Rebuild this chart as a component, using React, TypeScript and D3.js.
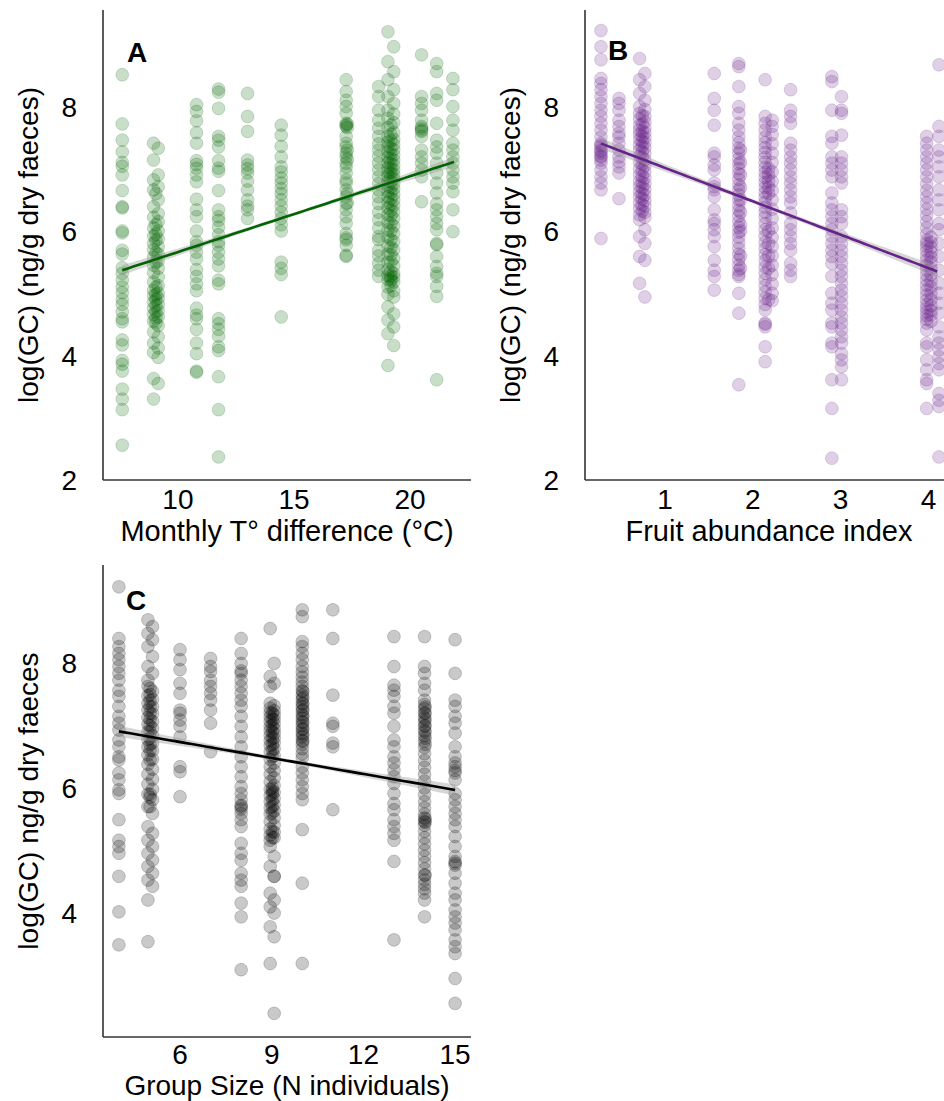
import React from "react";
import * as d3 from "d3";

// ---------- Panel A: monthly temperature difference ----------
const tempDiff = [7.6, 8.95, 9.15, 9.05, 10.8, 11.75, 13.0, 14.45, 17.25, 17.3, 18.65, 19.05, 19.3, 19.18, 20.5, 21.15, 21.85];
const gcByTemp: number[][] = [
  [8.51, 7.72, 7.46, 7.27, 7.1, 7.04, 6.9, 6.65, 6.39, 6.37, 6.0, 5.97, 5.69, 5.63, 5.41, 5.32, 5.21, 5.1, 5.01, 4.9, 4.82, 4.7, 4.59, 4.54, 4.25, 4.17, 3.92, 3.86, 3.75, 3.46, 3.3, 3.13, 2.56],
  [7.41, 7.14, 6.82, 6.66, 6.39, 6.22, 6.05, 5.92, 5.8, 5.7, 5.58, 5.45, 5.33, 5.18, 5.05, 4.96, 4.86, 4.76, 4.66, 4.55, 4.38, 4.2, 4.05, 3.63, 3.3],
  [7.33, 6.9, 6.71, 6.5, 6.28, 6.15, 6.0, 5.87, 5.75, 5.63, 5.52, 5.4, 5.26, 5.12, 5.0, 4.92, 4.82, 4.72, 4.62, 4.48, 4.3, 4.12, 3.97, 3.55],
  [6.6, 6.1, 5.95, 5.85, 5.65, 5.5, 5.1, 4.98, 4.9, 4.8, 4.7, 4.6, 4.52],
  [8.03, 7.92, 7.77, 7.58, 7.41, 7.13, 7.07, 7.01, 6.9, 6.79, 6.51, 6.34, 6.23, 6.0, 5.83, 5.77, 5.66, 5.55, 5.38, 5.27, 5.15, 5.04, 4.76, 4.65, 4.59, 4.42, 4.2, 4.03, 3.75, 3.73],
  [8.28, 8.23, 7.97, 7.52, 7.46, 7.35, 7.13, 7.01, 6.96, 6.65, 6.34, 6.23, 6.17, 6.06, 5.94, 5.83, 5.77, 5.66, 5.55, 5.44, 5.21, 5.15, 4.59, 4.51, 4.42, 4.31, 4.14, 4.08, 3.66, 3.13, 2.37],
  [8.21, 7.84, 7.6, 7.14, 7.06, 7.0, 6.93, 6.8, 6.66, 6.5, 6.4, 6.34, 6.2],
  [7.7, 7.54, 7.36, 7.19, 7.03, 6.95, 6.85, 6.77, 6.68, 6.6, 6.5, 6.4, 6.3, 6.2, 6.1, 6.0, 5.5, 5.4, 5.3, 4.62],
  [8.43, 8.24, 8.1, 8.0, 7.89, 7.73, 7.7, 7.68, 7.52, 7.41, 7.35, 7.25, 7.19, 7.09, 7.03, 6.93, 6.82, 6.77, 6.66, 6.55, 6.44, 6.34, 6.23, 6.12, 5.96, 5.89, 5.86, 5.77, 5.61, 5.59],
  [7.72, 7.66, 7.3, 7.15, 6.6, 6.45],
  [8.32, 8.16, 7.94, 7.78, 7.65, 7.52, 7.4, 7.3, 7.2, 7.09, 6.98, 6.87, 6.76, 6.66, 6.55, 6.44, 6.3, 6.18, 6.05, 5.91, 5.86, 5.69, 5.6, 5.48, 5.37, 5.27],
  [9.2, 8.72, 8.43, 8.16, 7.94, 7.81, 7.66, 7.52, 7.43, 7.36, 7.27, 7.18, 7.1, 7.02, 6.95, 6.88, 6.8, 6.72, 6.63, 6.55, 6.46, 6.37, 6.26, 6.14, 6.02, 5.9, 5.76, 5.63, 5.5, 5.38, 5.29, 5.22, 5.1, 4.98, 4.78, 4.57, 4.35, 3.84],
  [8.96, 8.56, 8.27, 8.05, 7.88, 7.74, 7.58, 7.47, 7.39, 7.31, 7.22, 7.14, 7.06, 6.98, 6.91, 6.84, 6.76, 6.68, 6.59, 6.5, 6.41, 6.31, 6.2, 6.08, 5.96, 5.83, 5.7, 5.56, 5.44, 5.32, 5.26, 5.18, 5.04, 4.94, 4.67, 4.46, 4.16],
  [7.7, 7.55, 7.45, 7.33, 7.24, 7.16, 7.08, 7.0, 6.93, 6.86, 6.79, 6.7, 6.62, 6.52, 6.42, 6.33, 6.24, 6.12, 6.0, 5.86, 5.74, 5.62, 5.5, 5.35, 5.28, 5.24, 5.2, 5.12],
  [8.83, 8.16, 8.05, 7.94, 7.78, 7.68, 7.65, 7.62, 7.6, 7.52, 7.3, 7.19, 7.09, 6.98, 6.87, 6.47],
  [8.69, 8.56, 8.21, 8.1, 7.73, 7.46, 7.35, 7.25, 7.09, 6.93, 6.77, 6.61, 6.44, 6.34, 6.23, 6.12, 6.02, 5.8, 5.78, 5.59, 5.43, 5.32, 5.27, 5.11, 4.95, 3.61],
  [8.45, 8.27, 8.0, 7.78, 7.62, 7.41, 7.3, 7.19, 7.09, 6.98, 6.87, 6.77, 6.63, 6.34, 5.99],
];
const tempTicks = [10, 15, 20];
const fitTemp = [4.445, 0.1217, 7.6, 21.9]; // intercept, slope, from, to
const ciTemp = [0.025, 0.08]; // half-width at centre, at ends

// ---------- Panel B: fruit abundance ----------
const fruitIndex = [0.27, 0.475, 0.71, 0.77, 0.74, 1.56, 1.84, 1.86, 2.14, 2.22, 2.18, 2.43, 2.9, 3.01, 3.98, 4.03, 4.12];
const gcByFruit: number[][] = [
  [9.22, 8.96, 8.75, 8.45, 8.37, 8.27, 8.16, 8.05, 7.94, 7.84, 7.73, 7.62, 7.51, 7.41, 7.38, 7.35, 7.3, 7.28, 7.25, 7.2, 7.19, 7.14, 7.09, 6.98, 6.87, 6.77, 6.66, 5.88],
  [8.13, 8.05, 7.94, 7.78, 7.68, 7.57, 7.51, 7.41, 7.3, 7.19, 7.11, 7.03, 6.93, 6.52],
  [8.77, 8.43, 8.21, 8.0, 7.89, 7.8, 7.7, 7.62, 7.55, 7.47, 7.38, 7.3, 7.2, 7.1, 7.0, 6.9, 6.8, 6.72, 6.63, 6.55, 6.45, 6.36, 6.26, 6.18, 5.91, 5.59, 5.16],
  [8.53, 8.32, 8.1, 7.95, 7.84, 7.75, 7.66, 7.58, 7.5, 7.42, 7.34, 7.25, 7.15, 7.05, 6.95, 6.85, 6.76, 6.67, 6.58, 6.49, 6.4, 6.3, 6.22, 6.02, 5.8, 5.53, 4.94],
  [7.85, 7.72, 7.6, 7.52, 7.44, 7.36, 7.27, 7.18, 7.08, 6.98, 6.88, 6.78, 6.7, 6.6, 6.52, 6.42, 6.32],
  [8.53, 8.13, 7.94, 7.7, 7.25, 7.19, 7.06, 6.98, 6.77, 6.71, 6.66, 6.55, 6.34, 6.18, 6.12, 6.02, 5.91, 5.75, 5.53, 5.37, 5.27, 5.05],
  [8.69, 8.64, 8.32, 8.0, 7.89, 7.73, 7.62, 7.51, 7.42, 7.33, 7.25, 7.16, 7.08, 7.0, 6.92, 6.83, 6.74, 6.66, 6.58, 6.5, 6.41, 6.33, 6.24, 6.15, 6.06, 5.98, 5.9, 5.81, 5.72, 5.63, 5.54, 5.45, 5.37, 5.3, 5.27, 5.0, 4.68, 3.53],
  [7.3, 7.1, 6.9, 6.7, 6.5, 6.3, 6.1, 6.0, 5.6, 5.4],
  [8.43, 7.84, 7.73, 7.62, 7.51, 7.42, 7.34, 7.26, 7.18, 7.1, 7.02, 6.94, 6.86, 6.78, 6.7, 6.62, 6.54, 6.46, 6.38, 6.3, 6.22, 6.12, 6.02, 5.92, 5.82, 5.72, 5.62, 5.52, 5.42, 5.32, 5.22, 5.12, 5.02, 4.92, 4.82, 4.73, 4.52, 4.5, 4.46, 4.14, 3.9],
  [7.78, 7.68, 7.55, 7.4, 7.25, 7.1, 6.95, 6.8, 6.65, 6.5, 6.35, 6.2, 6.05, 5.9, 5.75, 5.6, 5.45, 5.3, 5.15, 5.0, 4.88],
  [7.0, 6.9, 6.8, 6.7, 6.6, 6.0, 5.8, 5.6, 5.4, 4.9],
  [8.27, 7.94, 7.84, 7.73, 7.41, 7.3, 7.19, 7.09, 6.98, 6.87, 6.77, 6.66, 6.55, 6.45, 6.29, 6.12, 6.02, 5.91, 5.8, 5.69, 5.48, 5.37, 5.27],
  [8.48, 8.4, 7.94, 7.52, 7.41, 7.19, 7.09, 6.98, 6.87, 6.61, 6.45, 6.34, 6.23, 6.12, 6.02, 5.91, 5.8, 5.69, 5.59, 5.48, 5.27, 5.0, 4.84, 4.73, 4.52, 4.46, 4.2, 4.14, 3.61, 3.15, 2.35],
  [8.16, 7.94, 7.89, 7.54, 7.19, 7.09, 6.98, 6.87, 6.77, 6.34, 6.23, 6.12, 5.91, 5.8, 5.69, 5.59, 5.48, 5.37, 5.27, 5.16, 5.05, 4.95, 4.84, 4.73, 4.62, 4.52, 4.41, 4.3, 4.2, 4.03, 3.93, 3.82, 3.61],
  [7.52, 7.41, 7.3, 7.19, 7.09, 6.98, 6.87, 6.76, 6.65, 6.55, 6.45, 6.35, 6.25, 6.15, 6.05, 5.95, 5.85, 5.8, 5.75, 5.68, 5.6, 5.53, 5.45, 5.37, 5.29, 5.21, 5.13, 5.05, 4.97, 4.89, 4.82, 4.76, 4.7, 4.64, 4.58, 4.52, 4.41, 4.2, 4.14, 3.93, 3.77, 3.61, 3.55, 3.15],
  [5.9, 5.82, 5.74, 5.66, 5.58, 5.5, 5.4, 5.3, 5.2, 5.1, 5.0, 4.9, 4.8, 4.72, 4.65, 4.55],
  [8.67, 7.68, 7.52, 7.3, 7.19, 7.03, 6.87, 6.66, 6.5, 6.34, 6.12, 6.02, 5.8, 5.59, 5.37, 5.16, 5.0, 4.84, 4.68, 4.46, 4.3, 4.2, 4.09, 3.98, 3.87, 3.77, 3.39, 3.28, 3.18, 2.37],
];
const fruitTicks = [1, 2, 3, 4];
const fitFruit = [7.55, -0.5365, 0.27, 4.1];
const ciFruit = [0.03, 0.09];

// ---------- Panel C: group size ----------
const groupSize = [4, 4.95, 5.1, 5.02, 6, 7, 8, 8.95, 9.08, 9.02, 10, 10.02, 11, 13, 14, 14.02, 15];
const gcByGroup: number[][] = [
  [9.23, 8.4, 8.27, 8.16, 8.06, 7.95, 7.84, 7.73, 7.57, 7.47, 7.31, 7.15, 7.04, 6.93, 6.77, 6.66, 6.5, 6.45, 6.24, 6.13, 5.97, 5.91, 5.49, 5.16, 5.06, 4.95, 4.58, 4.01, 3.48],
  [8.7, 8.48, 8.27, 7.95, 7.73, 7.63, 7.48, 7.36, 7.25, 7.13, 7.02, 6.9, 6.78, 6.66, 6.53, 6.38, 6.22, 6.06, 5.9, 5.7, 5.38, 5.16, 4.95, 4.74, 4.52, 4.2, 3.53],
  [8.59, 8.38, 8.11, 7.84, 7.55, 7.42, 7.3, 7.19, 7.07, 6.96, 6.84, 6.72, 6.6, 6.46, 6.3, 6.14, 5.98, 5.81, 5.59, 5.27, 5.06, 4.84, 4.63, 4.42],
  [7.6, 7.5, 7.4, 7.3, 7.2, 7.1, 7.0, 6.9, 6.8, 6.7, 6.6, 6.45, 5.9, 5.85, 5.7],
  [8.22, 8.06, 7.9, 7.68, 7.52, 7.25, 7.2, 7.09, 6.99, 6.82, 6.34, 6.26, 5.86],
  [8.08, 7.95, 7.87, 7.73, 7.63, 7.52, 7.41, 7.25, 7.04, 6.58],
  [8.4, 8.16, 8.0, 7.88, 7.84, 7.73, 7.63, 7.52, 7.41, 7.31, 7.15, 6.99, 6.82, 6.66, 6.5, 6.34, 6.18, 6.02, 5.91, 5.81, 5.72, 5.7, 5.66, 5.59, 5.49, 5.38, 5.11, 4.95, 4.84, 4.63, 4.52, 4.42, 4.15, 3.93, 3.08],
  [8.56, 7.79, 7.63, 7.36, 7.28, 7.21, 7.14, 7.07, 6.99, 6.92, 6.84, 6.76, 6.68, 6.58, 6.46, 6.34, 6.22, 6.1, 5.98, 5.88, 5.78, 5.68, 5.58, 5.46, 5.34, 5.24, 5.16, 5.06, 4.74, 4.31, 4.09, 3.77, 3.18],
  [8.0, 7.68, 7.32, 7.24, 7.17, 7.1, 7.03, 6.95, 6.88, 6.8, 6.72, 6.63, 6.52, 6.4, 6.28, 6.16, 6.04, 5.93, 5.83, 5.73, 5.63, 5.52, 5.4, 5.29, 5.2, 4.9, 4.58, 4.58, 4.2, 3.99, 3.61, 2.38],
  [7.2, 7.1, 7.0, 6.9, 6.8, 6.7, 6.6, 6.5, 6.0, 5.95, 5.9, 5.8, 5.7, 5.6, 5.3, 5.2],
  [8.86, 8.75, 8.35, 8.27, 8.16, 8.06, 7.95, 7.86, 7.78, 7.7, 7.63, 7.56, 7.49, 7.42, 7.36, 7.3, 7.24, 7.18, 7.12, 7.06, 7.0, 6.94, 6.88, 6.82, 6.76, 6.7, 6.63, 6.55, 6.48, 6.34, 6.24, 6.13, 6.02, 5.91, 5.81, 5.33, 4.47, 3.18],
  [7.55, 7.45, 7.35, 7.25, 7.15, 7.05, 6.95, 6.85, 6.75],
  [8.86, 8.4, 7.49, 7.04, 6.99, 6.72, 6.66, 5.65],
  [8.43, 7.95, 7.65, 7.57, 7.47, 7.31, 7.2, 6.99, 6.77, 6.66, 6.5, 6.4, 6.29, 6.18, 6.07, 5.91, 5.75, 5.65, 5.49, 5.38, 5.27, 5.16, 4.82, 3.56],
  [8.43, 7.95, 7.84, 7.68, 7.57, 7.41, 7.34, 7.27, 7.2, 7.13, 7.06, 6.99, 6.92, 6.84, 6.75, 6.65, 6.55, 6.44, 6.33, 6.22, 6.11, 6.0, 5.89, 5.78, 5.68, 5.58, 5.52, 5.46, 5.4, 5.3, 5.2, 5.1, 5.0, 4.9, 4.8, 4.7, 4.6, 4.52, 4.45, 4.38, 4.31, 4.2, 3.93],
  [7.3, 7.2, 7.1, 7.0, 6.9, 6.8, 6.7, 5.5, 5.45, 4.6],
  [8.38, 7.84, 7.41, 7.31, 7.15, 7.04, 6.88, 6.66, 6.5, 6.4, 6.34, 6.28, 6.24, 6.13, 5.91, 5.81, 5.7, 5.59, 5.49, 5.38, 5.22, 5.06, 4.9, 4.82, 4.79, 4.76, 4.63, 4.47, 4.31, 4.2, 4.04, 3.93, 3.83, 3.72, 3.56, 3.45, 3.34, 2.94, 2.54],
];
const groupTicks = [6, 9, 12, 15];
const fitGroup = [7.25, -0.0855, 4, 15];
const ciGroup = [0.03, 0.09];

const gcTicksAB = [2, 4, 6, 8];
const gcTicksC = [4, 6, 8];

const FONT = "'Liberation Sans', Arial, Helvetica, sans-serif";

type Spec = {
  letter: string;
  left: number; right: number; top: number; bottom: number;
  xDomain: [number, number]; yDomain: [number, number];
  xs: number[]; ys: number[][];
  xTicks: number[]; yTicks: number[];
  xTitle: string; yTitle: string;
  color: string;
  fit: number[]; ci: number[];
  letterPos: [number, number];
  tickGap: number;
  titleGap: number;
  titleSize: number;
};

function Panel({ s }: { s: Spec }) {
  const x = d3.scaleLinear().domain(s.xDomain).range([s.left, s.right]);
  const y = d3.scaleLinear().domain(s.yDomain).range([s.bottom, s.top]);
  const pts = s.xs.flatMap((xv, i) => s.ys[i].map((v) => [xv, v] as [number, number]));
  const [b0, b1, f0, f1] = s.fit;
  const mid = (f0 + f1) / 2;
  const half = (f1 - f0) / 2;
  const [h0, h1] = s.ci;
  const hw = (u: number) => Math.sqrt(h0 * h0 + (h1 * h1 - h0 * h0) * ((u - mid) / half) ** 2);
  const us = d3.range(0, 61).map((i) => f0 + ((f1 - f0) * i) / 60);
  const band = d3
    .area<number>()
    .x((u) => x(u))
    .y0((u) => y(b0 + b1 * u - hw(u)))
    .y1((u) => y(b0 + b1 * u + hw(u)))(us);
  const line = d3
    .line<number>()
    .x((u) => x(u))
    .y((u) => y(b0 + b1 * u))(us);
  const ymid = (s.top + s.bottom) / 2;
  const xmid = (s.left + s.right) / 2;
  return (
    <g>
      <g>
        {pts.map(([a, b], i) => (
          <circle
            key={i}
            cx={x(a)}
            cy={y(b)}
            r={6.4}
            fill={s.color}
            fillOpacity={0.21}
            stroke={s.color}
            strokeOpacity={0.18}
            strokeWidth={1}
          />
        ))}
      </g>
      <path d={band || ""} fill="#999999" fillOpacity={0.4} />
      <path d={line || ""} fill="none" stroke={s.color} strokeWidth={2.6} />
      <line x1={s.left} x2={s.left} y1={s.top} y2={s.bottom} stroke="#333" strokeWidth={1.6} />
      <line x1={s.left} x2={s.right} y1={s.bottom} y2={s.bottom} stroke="#333" strokeWidth={1.6} />
      {s.yTicks.map((t) => (
        <text key={"y" + t} x={s.left - 26} y={y(t)} dy="0.36em" textAnchor="end" fontSize={28} fontFamily={FONT} fill="#000">
          {t}
        </text>
      ))}
      {s.xTicks.map((t) => (
        <text key={"x" + t} x={x(t)} y={s.bottom + s.tickGap} dy="0.36em" textAnchor="middle" fontSize={28} fontFamily={FONT} fill="#000">
          {t}
        </text>
      ))}
      <text x={xmid} y={s.bottom + s.titleGap} dy="0.36em" textAnchor="middle" fontSize={s.titleSize} fontFamily={FONT} fill="#000">
        {s.xTitle}
      </text>
      <text
        transform={`translate(${s.left - 75},${ymid}) rotate(-90)`}
        dy="0.36em"
        textAnchor="middle"
        fontSize={28}
        fontFamily={FONT}
        fill="#000"
      >
        {s.yTitle}
      </text>
      <text x={s.letterPos[0]} y={s.letterPos[1]} dy="0.36em" textAnchor="middle" fontSize={28} fontWeight="bold" fontFamily={FONT} fill="#000">
        {s.letter}
      </text>
    </g>
  );
}

const specs: Spec[] = [
  {
    letter: "A", left: 103, right: 471, top: 10, bottom: 480,
    xDomain: [6.77, 22.63], yDomain: [2, 9.55],
    xs: tempDiff, ys: gcByTemp, xTicks: tempTicks, yTicks: gcTicksAB,
    xTitle: "Monthly T\u00b0 difference (\u00b0C)", yTitle: "log(GC) (ng/g dry faeces)",
    color: "#006400", fit: fitTemp, ci: ciTemp, letterPos: [137, 52],
    tickGap: 19, titleGap: 51, titleSize: 29,
  },
  {
    letter: "B", left: 585, right: 953, top: 10, bottom: 480,
    xDomain: [0.088, 4.28], yDomain: [2, 9.55],
    xs: fruitIndex, ys: gcByFruit, xTicks: fruitTicks, yTicks: gcTicksAB,
    xTitle: "Fruit abundance index", yTitle: "log(GC) (ng/g dry faeces)",
    color: "#68228B", fit: fitFruit, ci: ciFruit, letterPos: [618, 50],
    tickGap: 19, titleGap: 51, titleSize: 29,
  },
  {
    letter: "C", left: 103, right: 471, top: 565, bottom: 1037,
    xDomain: [3.48, 15.52], yDomain: [2, 9.58],
    xs: groupSize, ys: gcByGroup, xTicks: groupTicks, yTicks: gcTicksC,
    xTitle: "Group Size (N individuals)", yTitle: "log(GC) ng/g dry faeces",
    color: "#000000", fit: fitGroup, ci: ciGroup, letterPos: [136, 600],
    tickGap: 17, titleGap: 48, titleSize: 28,
  },
];

export default function App() {
  return (
    <svg
      width={944}
      height={1101}
      viewBox="0 0 944 1101"
      style={{ position: "absolute", left: 0, top: 0, background: "#fff" }}
    >
      <rect x={0} y={0} width={944} height={1101} fill="#fff" />
      {specs.map((s) => (
        <Panel key={s.letter} s={s} />
      ))}
    </svg>
  );
}
